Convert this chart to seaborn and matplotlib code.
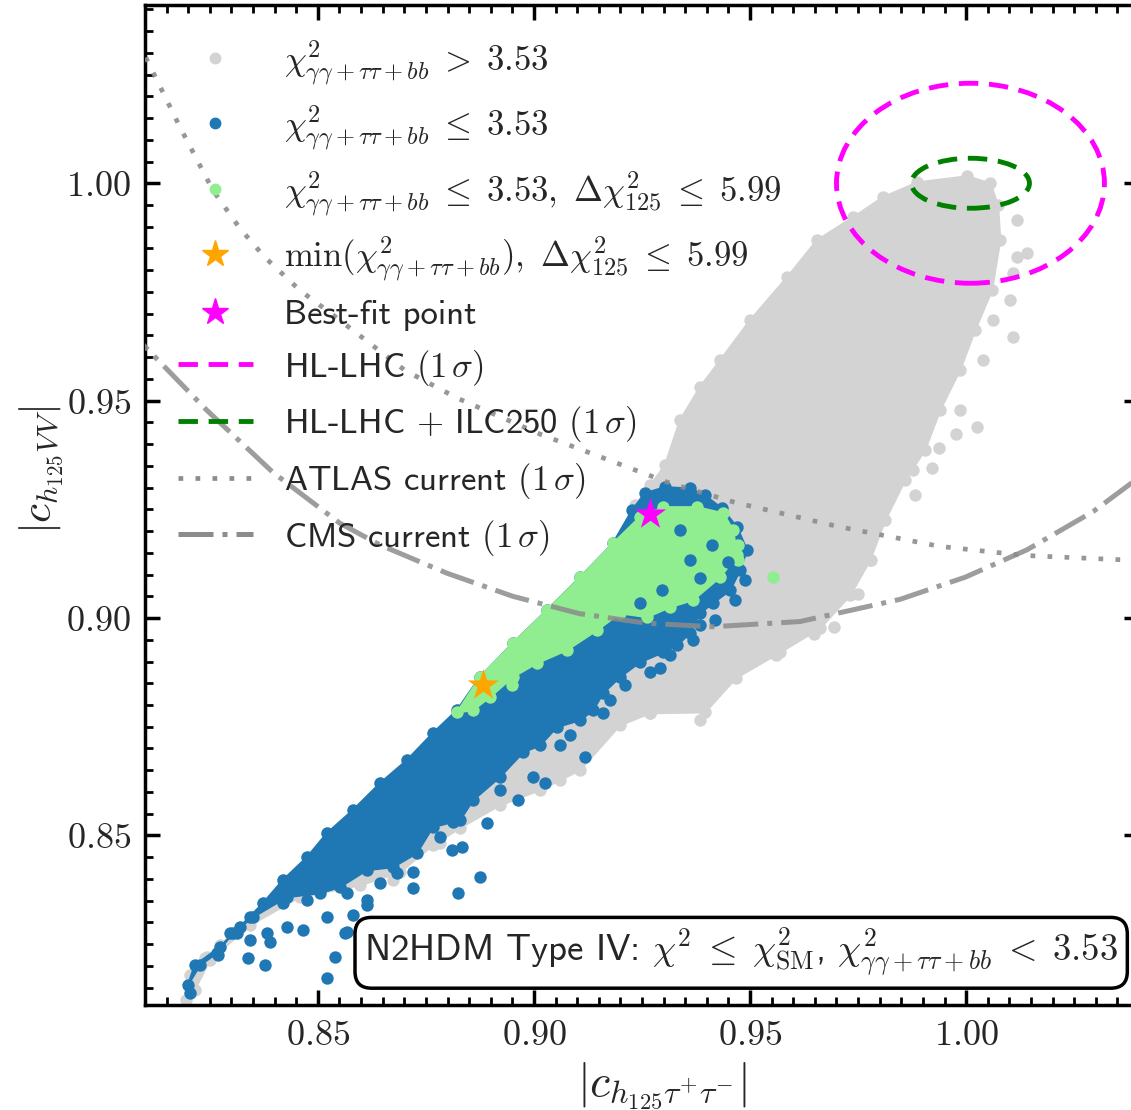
import numpy as np
import pandas as pd
import matplotlib
matplotlib.use("Agg")
import matplotlib.pyplot as plt
from matplotlib.patches import Ellipse
from matplotlib.lines import Line2D
from matplotlib.ticker import MultipleLocator, FuncFormatter
import seaborn as sns

# ---- values ----
# outline of the full scan (chi2 > 3.53, grey)
grey_x = [0.8194, 0.8204, 0.8238, 0.8273, 0.8319, 0.8373, 0.8419, 0.8475, 0.8521, 0.8581,
          0.8644, 0.8706, 0.8766, 0.8822, 0.8875, 0.8951, 0.9030, 0.9107, 0.9183, 0.9234,
          0.9269, 0.9303, 0.9338, 0.9384, 0.9431, 0.9500, 0.9586, 0.9655, 0.9739, 0.9808,
          0.9887, 1.0002, 1.0056, 1.0074, 1.0079, 1.0060, 1.0021, 0.9986, 0.9940, 0.9905,
          0.9859, 0.9813, 0.9778, 0.9732, 0.9662, 0.9570, 0.9468, 0.9396, 0.9269, 0.9199,
          0.9107, 0.9014, 0.8921, 0.8829, 0.8766, 0.8690, 0.8597, 0.8458, 0.8343, 0.8250, 0.8215]
grey_y = [0.8121, 0.8178, 0.8217, 0.8247, 0.8289, 0.8344, 0.8397, 0.8450, 0.8505, 0.8558,
          0.8620, 0.8673, 0.8735, 0.8788, 0.8864, 0.8942, 0.9018, 0.9094, 0.9172, 0.9259,
          0.9305, 0.9351, 0.9455, 0.9531, 0.9593, 0.9685, 0.9784, 0.9869, 0.9922, 0.9968,
          1.0002, 1.0016, 1.0000, 0.9949, 0.9869, 0.9754, 0.9662, 0.9570, 0.9478, 0.9386,
          0.9317, 0.9225, 0.9133, 0.9052, 0.8976, 0.8921, 0.8862, 0.8783, 0.8781, 0.8753,
          0.8650, 0.8604, 0.8569, 0.8517, 0.8477, 0.8415, 0.8385, 0.8358, 0.8293, 0.8213, 0.8144]
grey_out_x = [1.0118, 1.0118, 1.0141, 1.0109, 1.0102, 1.0109, 1.0063, 1.0039, 0.9986, 1.0026,
              0.9977, 0.9938, 0.9921, 0.9877, 0.9882, 0.9789, 0.9780, 0.9750, 0.9695, 0.9648,
              0.9560, 0.9384, 0.9269, 0.9060, 0.8968, 0.8782, 0.8674, 0.8451, 0.8243]
grey_out_y = [0.9915, 0.9830, 0.9839, 0.9793, 0.9731, 0.9646, 0.9685, 0.9593, 0.9478, 0.9439,
              0.9423, 0.9390, 0.9344, 0.9340, 0.9282, 0.9328, 0.9133, 0.9055, 0.8979, 0.8963,
              0.8914, 0.8765, 0.8781, 0.8627, 0.8620, 0.8482, 0.8397, 0.8367, 0.8220]

# chi2 <= 3.53 (blue)
blue_x = [0.8199, 0.8215, 0.8273, 0.8319, 0.8373, 0.8419, 0.8475, 0.8521, 0.8581, 0.8644,
          0.8706, 0.8766, 0.8822, 0.8875, 0.8951, 0.9030, 0.9107, 0.9183, 0.9227, 0.9257,
          0.9303, 0.9361, 0.9396, 0.9435, 0.9470, 0.9493, 0.9477, 0.9454, 0.9414, 0.9384,
          0.9361, 0.9331, 0.9299, 0.9245, 0.9199, 0.9160, 0.9137, 0.9107, 0.9053, 0.9014,
          0.8975, 0.8921, 0.8859, 0.8829, 0.8766, 0.8729, 0.8674, 0.8613, 0.8551, 0.8505,
          0.8428, 0.8350, 0.8303, 0.8266, 0.8227]
blue_y = [0.8155, 0.8201, 0.8243, 0.8289, 0.8344, 0.8397, 0.8450, 0.8505, 0.8558, 0.8620,
          0.8673, 0.8735, 0.8788, 0.8864, 0.8942, 0.9018, 0.9094, 0.9172, 0.9248, 0.9287,
          0.9301, 0.9298, 0.9282, 0.9252, 0.9209, 0.9156, 0.9110, 0.9064, 0.9034, 0.9011,
          0.8965, 0.8937, 0.8921, 0.8898, 0.8864, 0.8827, 0.8788, 0.8765, 0.8749, 0.8707,
          0.8691, 0.8634, 0.8581, 0.8535, 0.8519, 0.8459, 0.8427, 0.8420, 0.8381, 0.8367,
          0.8358, 0.8312, 0.8275, 0.8229, 0.8201]
blue_out_x = [0.8204, 0.8521, 0.8539, 0.8563, 0.8377, 0.8338, 0.8613, 0.8720, 0.8824, 0.8875,
              0.8891, 0.8963, 0.9026, 0.9118, 0.8720, 0.8810, 0.9160, 0.9292, 0.9447, 0.9384,
              0.8269, 0.8296, 0.8312, 0.8343, 0.8343, 0.8382, 0.8389, 0.8428, 0.8465, 0.8419,
              0.8475, 0.8521, 0.8567, 0.8581, 0.8567, 0.8613, 0.8644, 0.8683, 0.8782, 0.8813,
              0.8833, 0.8998, 0.8921, 0.9060, 0.9083, 0.9176, 0.9211, 0.9269, 0.9315, 0.9368,
              0.9419, 0.9465, 0.9488]
blue_out_y = [0.8137, 0.8171, 0.8220, 0.8275, 0.8201, 0.8217, 0.8339, 0.8378, 0.8367, 0.8404,
              0.8528, 0.8581, 0.8620, 0.8680, 0.8415, 0.8466, 0.8781, 0.8884, 0.9068, 0.8983,
              0.8224, 0.8275, 0.8275, 0.8259, 0.8312, 0.8275, 0.8254, 0.8289, 0.8282, 0.8344,
              0.8351, 0.8312, 0.8367, 0.8316, 0.8277, 0.8351, 0.8390, 0.8413, 0.8496, 0.8530,
              0.8473, 0.8634, 0.8604, 0.8707, 0.8730, 0.8811, 0.8845, 0.8875, 0.8914, 0.8949,
              0.8995, 0.9041, 0.9087]
# blue points lying on top of the green area
blue_top_x = [0.9361, 0.9384, 0.9419, 0.9296, 0.9245, 0.9412, 0.9449, 0.9338]
blue_top_y = [0.9133, 0.9092, 0.9059, 0.9064, 0.9034, 0.9167, 0.9128, 0.9202]

# chi2 <= 3.53 and dchi2_125 <= 5.99 (green)
green_x = [0.8822, 0.8875, 0.8951, 0.9030, 0.9107, 0.9183, 0.9245, 0.9299, 0.9377, 0.9438,
           0.9461, 0.9470, 0.9431, 0.9368, 0.9315, 0.9262, 0.9199, 0.9146, 0.9076, 0.9007,
           0.8951, 0.8898, 0.8859]
green_y = [0.8783, 0.8864, 0.8942, 0.9018, 0.9094, 0.9172, 0.9232, 0.9255, 0.9255, 0.9241,
           0.9202, 0.9144, 0.9094, 0.9041, 0.9025, 0.9002, 0.9011, 0.8972, 0.8926, 0.8896,
           0.8864, 0.8818, 0.8788]
green_out_x = [0.9472, 0.9472, 0.9553, 0.8949]
green_out_y = [0.9167, 0.9133, 0.9094, 0.8845]

# special points
min_chi2_pt = (0.8882, 0.8847)
best_fit_pt = (0.9269, 0.9239)

# projected 1 sigma ellipses (centre, full width, full height)
hllhc_ell = (1.001, 1.000, 0.062, 0.046)
ilc_ell = (1.001, 1.000, 0.0273, 0.0115)

# current 1 sigma contours
atlas_x = [0.805, 0.8104, 0.8181, 0.8257, 0.8319, 0.8377, 0.8458, 0.8539, 0.8620, 0.8701,
           0.8822, 0.9014, 0.9169, 0.9315, 0.9465, 0.9701, 0.9938, 1.0134, 1.0382, 1.045]
atlas_y = [1.0395, 1.0285, 1.0129, 0.9984, 0.9897, 0.9830, 0.9754, 0.9694, 0.9632, 0.9570,
           0.9506, 0.9423, 0.9365, 0.9310, 0.9266, 0.9211, 0.9165, 0.9144, 0.9133, 0.9131]
cms_x = [0.805, 0.8104, 0.8243, 0.8396, 0.8551, 0.8644, 0.8799, 0.8951, 0.9106, 0.9262,
         0.9414, 0.9616, 0.9847, 0.9998, 1.0141, 1.0294, 1.0382, 1.045]
cms_y = [0.9675, 0.9620, 0.9478, 0.9335, 0.9218, 0.9168, 0.9103, 0.9050, 0.9010, 0.8988,
         0.8980, 0.8992, 0.9043, 0.9094, 0.9157, 0.9245, 0.9310, 0.9365]

labels = [r"$\chi^2_{\gamma\gamma+\tau\tau+bb} \;>\; 3.53$",
          r"$\chi^2_{\gamma\gamma+\tau\tau+bb} \;\leq\; 3.53$",
          r"$\chi^2_{\gamma\gamma+\tau\tau+bb} \;\leq\; 3.53,\ \Delta\chi^2_{125} \;\leq\; 5.99$",
          r"$\min(\chi^2_{\gamma\gamma+\tau\tau+bb}),\ \Delta\chi^2_{125} \;\leq\; 5.99$",
          "Best-fit point",
          r"HL-LHC $(1\,\sigma)$",
          r"HL-LHC $+$ ILC250 $(1\,\sigma)$",
          r"ATLAS current $(1\,\sigma)$",
          r"CMS current $(1\,\sigma)$"]
box_text = (r"N2HDM Type IV: $\chi^2 \;\leq\; \chi^2_{\mathrm{SM}}$, "
            r"$\chi^2_{\gamma\gamma+\tau\tau+bb} \;<\; 3.53$")

GREY = "#d3d3d3"
BLUE = "#1f77b4"
GREEN = "#90ee90"
LINEGREY = "#8c8c8c"

sns.set_theme(style="ticks")
plt.rcParams["font.family"] = ["cmss10", "DejaVu Sans"]
plt.rcParams["mathtext.fontset"] = "cm"
plt.rcParams["axes.unicode_minus"] = False
plt.rcParams["axes.linewidth"] = 2.5

fig = plt.figure(figsize=(11.31, 11.10), dpi=100)
ax = fig.add_axes([145 / 1131, 105 / 1110, 994 / 1131, 1000 / 1110])

# point clouds: filled body + dots along the border + stray points
dot = 80
for px, py, ox, oy, col, z in [(grey_x, grey_y, grey_out_x, grey_out_y, GREY, 1),
                               (blue_x, blue_y, blue_out_x, blue_out_y, BLUE, 2),
                               (green_x, green_y, green_out_x, green_out_y, GREEN, 3)]:
    ax.fill(px, py, color=col, lw=1.5, zorder=z)
    sns.scatterplot(x=px + ox, y=py + oy, s=dot, color=col, linewidth=0,
                    zorder=z, ax=ax, legend=False)
sns.scatterplot(x=blue_top_x, y=blue_top_y, s=dot, color=BLUE, linewidth=0,
                zorder=3.5, ax=ax, legend=False)

# current measurements
sns.lineplot(x=atlas_x, y=atlas_y, sort=False, estimator=None, color=LINEGREY,
             lw=3.4, linestyle=(0, (1, 2.6)), alpha=0.9, zorder=5, ax=ax)
sns.lineplot(x=cms_x, y=cms_y, sort=False, estimator=None, color=LINEGREY,
             lw=3.6, linestyle=(0, (7, 1.8, 1, 1.8)), alpha=0.85, zorder=5, ax=ax)

# future projections
for (cx, cy, w, h), col in [(hllhc_ell, "magenta"), (ilc_ell, "green")]:
    ax.add_patch(Ellipse((cx, cy), w, h, fill=False, edgecolor=col, lw=3.5,
                         linestyle=(0, (4, 2.2)), zorder=6))

sns.scatterplot(x=[min_chi2_pt[0]], y=[min_chi2_pt[1]], marker="*", s=560,
                color="orange", linewidth=0, zorder=7, ax=ax, legend=False)
sns.scatterplot(x=[best_fit_pt[0]], y=[best_fit_pt[1]], marker="*", s=560,
                color="magenta", linewidth=0, zorder=7, ax=ax, legend=False)

ax.set_xlim(0.81, 1.04)
ax.set_ylim(0.811, 1.041)
for axis in (ax.xaxis, ax.yaxis):
    axis.set_major_locator(MultipleLocator(0.05))
    axis.set_minor_locator(MultipleLocator(0.005))
    axis.set_major_formatter(FuncFormatter(lambda v, p: f"${v:.2f}$"))
ax.tick_params(which="both", direction="in", top=True, right=True, color="black")
ax.tick_params(which="major", length=11, width=2.5, labelsize=26, pad=10)
ax.tick_params(which="minor", length=6, width=2)
for s in ax.spines.values():
    s.set_color("black")

ax.set_xlabel(r"$|c_{h_{125}\tau^{+}\tau^{-}}|$", fontsize=33)
ax.set_ylabel(r"$|c_{h_{125}VV}|$", fontsize=31)
ax.xaxis.set_label_coords(0.52, -0.056)
ax.yaxis.set_label_coords(-0.079, 0.535)

handles = [
    Line2D([], [], ls="", marker="o", ms=7.5, mfc=GREY, mec=GREY),
    Line2D([], [], ls="", marker="o", ms=7.5, mfc=BLUE, mec=BLUE),
    Line2D([], [], ls="", marker="o", ms=7.5, mfc=GREEN, mec=GREEN),
    Line2D([], [], ls="", marker="*", ms=20, mfc="orange", mec="orange"),
    Line2D([], [], ls="", marker="*", ms=20, mfc="magenta", mec="magenta"),
    Line2D([], [], color="magenta", lw=3.5, ls=(0, (4, 2.2))),
    Line2D([], [], color="green", lw=3.5, ls=(0, (4, 2.2))),
    Line2D([], [], color=LINEGREY, lw=3.4, ls=(0, (1, 2.6))),
    Line2D([], [], color=LINEGREY, lw=3.6, ls=(0, (7, 1.8, 1, 1.8))),
]
leg = ax.legend(handles=handles, labels=labels, loc="upper left",
                bbox_to_anchor=(0.0, 1.0), frameon=False, fontsize=25,
                handlelength=2.15, handletextpad=0.9, labelspacing=0.48,
                borderaxespad=0.5, borderpad=0.45)
leg.set_zorder(10)

ax.text(0.979, 0.026, box_text, transform=ax.transAxes, ha="right", va="bottom",
        fontsize=26.5, zorder=11,
        bbox=dict(boxstyle="round,pad=0.25,rounding_size=0.45", fc="white",
                  ec="black", lw=2.5))

fig.savefig("out.png", dpi=100)
